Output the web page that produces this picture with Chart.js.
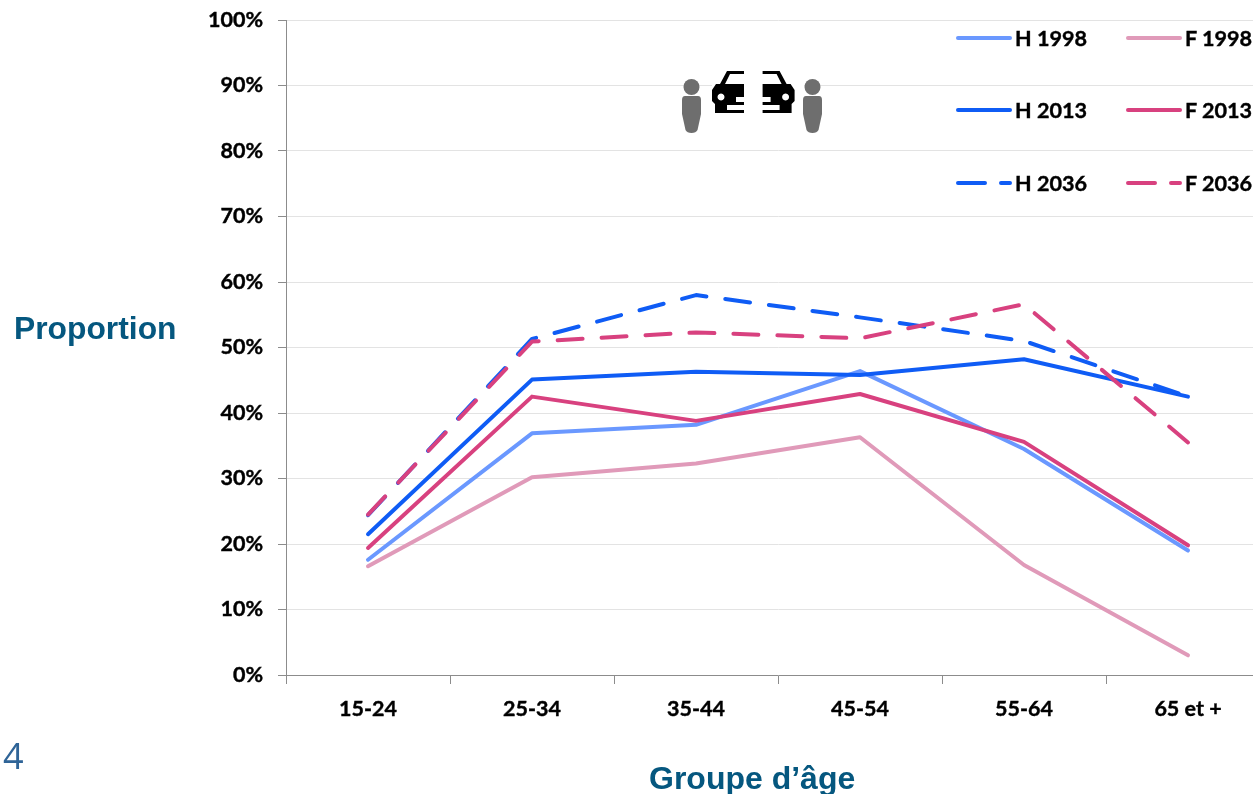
<!DOCTYPE html>
<html lang="fr">
<head>
<meta charset="utf-8">
<script src="https://cdn.jsdelivr.net/npm/chart.js@4"></script>
<style>
  html, body { margin: 0; padding: 0; background: #fff; overflow: hidden; width: 1253px; height: 794px; }
  #stage { position: relative; width: 1253px; height: 794px; overflow: hidden; }
  #box { position: absolute; left: 0; top: 0; width: 1270px; height: 794px; }
  .title { position: absolute; font-family: "Liberation Sans", Arial, sans-serif; font-weight: bold; color: #05577f; white-space: nowrap; }
  #pageNo { position: absolute; left: 3px; top: 732px; font: 36px "Open Sans", sans-serif; color: #2f6497; line-height: 48px; }
  .key { position: absolute; height: 30px; width: 130px; }
  .key svg { position: absolute; left: 0; top: 0; }
  .key span { position: absolute; left: 60px; top: 0; font: bold 21.6px Lato, sans-serif; line-height: 30px; color: #000; white-space: nowrap; -webkit-text-stroke: 0.4px #000; }
  #icons { position: absolute; left: 660px; top: 60px; }
</style>
</head>
<body>
<div id="stage">
  <div id="box"><canvas id="chart"></canvas></div>
  <svg id="icons" width="180" height="90" viewBox="0 0 180 90">
    <rect x="52" y="20" width="92" height="10" fill="#fff"/>
    <g id="person" fill="#6e6e6e">
      <circle cx="31.5" cy="27" r="8"/>
      <path d="M25 36 H38 Q41 36 41 40 V54 L37.5 70 Q36 73 31.5 73 Q27 73 25.5 70 L22 54 V40 Q22 36 25 36 Z"/>
    </g>
    <use href="#person" x="121"/>
    <g id="car" fill="#000">
      <path fill-rule="evenodd" d="M84 11 H67 L60 24 H56 L52 30 V41 L55 44 V53 H84 V50 H67 V45 H84 V42 H76 V37 H84 V24 H65 L70 14 H84 Z M61 33.5 A3.5 3.5 0 1 0 61.01 33.5 Z"/>
    </g>
    <use href="#car" transform="translate(186.6 0) scale(-1 1)"/>
  </svg>
  <div class="title" style="left:14px;top:309px;font-size:31.8px;line-height:38px">Proportion</div>
  <div class="title" style="left:649px;top:759px;font-size:32px;line-height:38px">Groupe d’âge</div>
  <div id="pageNo">4</div>
  <div id="legend"></div>
</div>
<script>
// Age groups and tick labels
const ageGroups = ['15-24', '25-34', '35-44', '45-54', '55-64', '65 et +'];

// Share of each group, in percent
const men1998 = [17.6, 36.9, 38.2, 46.4, 34.5, 19.0];
const women1998 = [16.6, 30.2, 32.3, 36.3, 16.8, 3.0];
const men2013 = [21.5, 45.1, 46.3, 45.8, 48.2, 42.5];
const women2013 = [19.4, 42.5, 38.8, 42.9, 35.6, 19.8];
const men2036 = [24.4, 51.3, 58.0, 54.6, 51.0, 42.5];
const women2036 = [24.5, 50.9, 52.3, 51.4, 56.6, 35.5];

const lightBlue = '#6a98ff', lightPink = '#e09ab9';
const blue = '#0f5cf5', pink = '#d8417f';
const dashes = [25, 19];

// A higher order is painted first, so later series sit on top
const line = (label, data, color, order, dash) => ({
  label, data, order, borderColor: color, backgroundColor: color,
  borderWidth: 4, borderDash: dash || [], pointRadius: 0, tension: 0,
  borderCapStyle: 'round', borderJoinStyle: 'round', clip: false
});

const datasets = [
  line('H 1998', men1998, lightBlue, 6),
  line('F 1998', women1998, lightPink, 5),
  line('H 2013', men2013, blue, 4),
  line('F 2013', women2013, pink, 3),
  line('H 2036', men2036, blue, 2, dashes),
  line('F 2036', women2036, pink, 1, dashes)
];

// Legend in two columns built from the datasets
const keyLeft = [955, 1125], keyTop = [23, 95, 168];
const legendEl = document.getElementById('legend');
datasets.forEach((d, i) => {
  const col = i % 2, row = Math.floor(i / 2);
  const dash = d.borderDash.length ? 'stroke-dasharray="27 16"' : '';
  const el = document.createElement('div');
  el.className = 'key';
  el.style.left = keyLeft[col] + 'px';
  el.style.top = keyTop[row] + 'px';
  el.innerHTML = `<svg width="60" height="30"><line x1="3" x2="55" y1="15" y2="15" stroke="${d.borderColor}" stroke-width="4" stroke-linecap="round" ${dash}/></svg><span>${d.label}</span>`;
  legendEl.appendChild(el);
});

const tickFont = { family: 'Lato', weight: 'bold', size: 21.5 };

new Chart(document.getElementById('chart'), {
  type: 'line',
  data: { labels: ageGroups, datasets },
  options: {
    responsive: true,
    maintainAspectRatio: false,
    animation: false,
    layout: { padding: { top: 20, right: 0, bottom: 0, left: 0 } },
    plugins: { legend: { display: false }, tooltip: { enabled: false } },
    scales: {
      x: {
        offset: true,
        afterFit: s => { s.height = 119; },
        grid: { offset: true, drawOnChartArea: false, drawTicks: true, tickLength: 9, color: '#8c8c8c', lineWidth: 1 },
        border: { color: '#8c8c8c', width: 1 },
        ticks: { color: '#000', padding: 12, maxRotation: 0, autoSkip: false, font: tickFont, textStrokeColor: '#000', textStrokeWidth: 0.4 }
      },
      y: {
        min: 0, max: 100,
        // Keep the plot top fixed: the tick padding would otherwise push it down
        afterFit: s => { s.width = 286; s.paddingTop = 0; },
        grid: { color: '#e3e3e3', lineWidth: 1, tickLength: 8, tickColor: '#8c8c8c' },
        border: { color: '#8c8c8c', width: 1 },
        ticks: { stepSize: 10, color: '#000', padding: 15, font: tickFont, textStrokeColor: '#000', textStrokeWidth: 0.4, callback: v => v + '%' }
      }
    }
  }
});
</script>
</body>
</html>
